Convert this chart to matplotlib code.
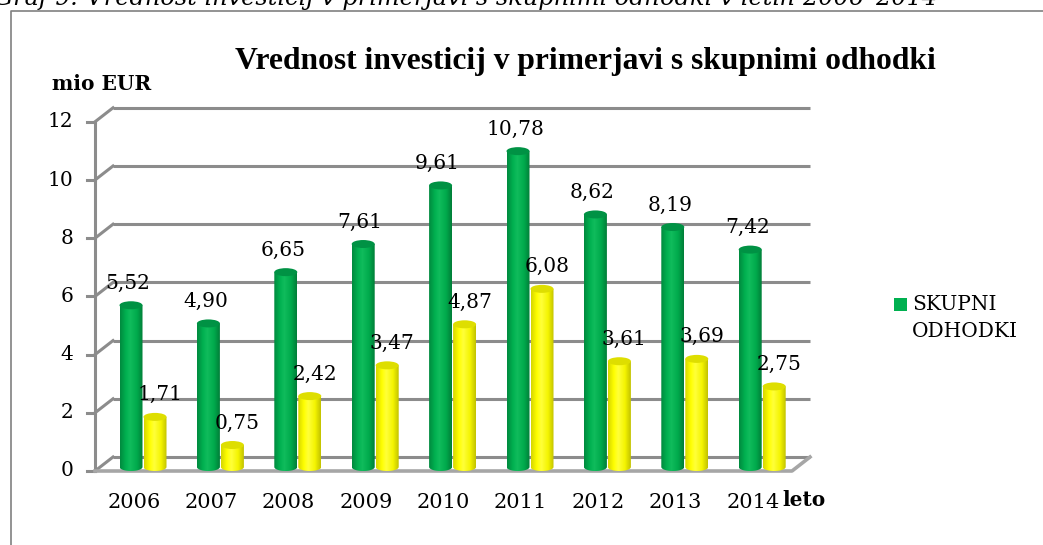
import numpy as np
import matplotlib
matplotlib.use("Agg")
import matplotlib.pyplot as plt
from matplotlib.patches import Polygon, Ellipse, Rectangle
from matplotlib.colors import LinearSegmentedColormap
from matplotlib.lines import Line2D

# ===== DATA =====
years = ["2006", "2007", "2008", "2009", "2010", "2011", "2012", "2013", "2014"]
skupni_odhodki = [5.52, 4.90, 6.65, 7.61, 9.61, 10.78, 8.62, 8.19, 7.42]
investicije = [1.71, 0.75, 2.42, 3.47, 4.87, 6.08, 3.61, 3.69, 2.75]
y_ticks = [0, 2, 4, 6, 8, 10, 12]

caption = "Graf 9: Vrednost investicij v primerjavi s skupnimi odhodki v letih 2006–2014"
title = "Vrednost investicij v primerjavi s skupnimi odhodki"
legend_label = "SKUPNI\nODHODKI"

# ===== STYLE =====
W, H = 1043, 545
PX_X = 77.4     # pixels per category
PX_Y = 29.3     # pixels per unit
X0, Y0 = 143, 467   # pixel of (0, 0)
GRID = "#8c8c8c"
SERIF = "DejaVu Serif"

green_cmap = LinearSegmentedColormap.from_list(
    "g", [(0, "#008a3e"), (0.25, "#00b050"), (0.45, "#10bc5c"), (0.75, "#00aa4c"), (1, "#007e38")])
yellow_cmap = LinearSegmentedColormap.from_list(
    "y", [(0, "#d6d600"), (0.25, "#ffff00"), (0.45, "#ffff3a"), (0.75, "#f4f400"), (1, "#c2c200")])

fig = plt.figure(figsize=(W / 100, H / 100), dpi=100)
ax = fig.add_axes([0, 0, 1, 1])
ax.set_xlim(-X0 / PX_X, (W - X0) / PX_X)
ax.set_ylim((Y0 - H) / PX_Y, Y0 / PX_Y)
ax.axis("off")


def px(x):
    return (x - X0) / PX_X


def py(y):
    return (Y0 - y) / PX_Y


# ===== WALLS / GRID =====
fx0, bx0, bx1, fx1 = px(95), px(113), px(810), px(792)
front_off, back_off = py(471), py(457)
g_scale = 29.1 / PX_Y
for v in y_ticks:
    yb = v * g_scale + back_off
    yf = v * g_scale + front_off
    ax.plot([bx0, bx1], [yb, yb], color=GRID, lw=2.2, zorder=1, solid_capstyle="butt")
    ax.plot([fx0, bx0], [yf, yb], color=GRID, lw=2.2, zorder=1)
    ax.plot([px(87), fx0], [yf, yf], color=GRID, lw=2.2, zorder=1)
    ax.text(px(73), yf, str(v), ha="right", va="center", fontsize=14.5, family=SERIF)
ax.plot([fx0, fx0], [front_off, y_ticks[-1] * g_scale + front_off], color=GRID, lw=2.2,
        zorder=1)
ax.plot([fx0, fx1, bx1], [front_off, front_off, back_off], color="#a6a6a6", lw=2.6,
        zorder=1)


# ===== CYLINDERS =====
def cylinder(xc, h, cmap, top_col, z):
    w = 23 / PX_X
    eh = 4 / PX_Y
    x0, x1 = xc - w / 2, xc + w / 2
    t = np.linspace(np.pi, 2 * np.pi, 30)
    arc = np.column_stack([xc + w / 2 * np.cos(t), eh * np.sin(t)])
    pts = np.vstack([[x0, h], arc, [x1, h]])
    clip = Polygon(pts, closed=True, fc="none", ec="none")
    ax.add_patch(clip)
    grad = np.linspace(0, 1, 64).reshape(1, -1)
    im = ax.imshow(grad, cmap=cmap, extent=[x0, x1, -eh, h], aspect="auto", zorder=z,
                   interpolation="bilinear")
    im.set_clip_path(clip)
    ax.add_patch(Ellipse((xc, h), w, 2 * eh, fc=top_col, ec="none", zorder=z + 0.1))


off = 12 / PX_X
lab_shift = 9.3 / PX_X
for i, (g, yv) in enumerate(zip(skupni_odhodki, investicije)):
    cylinder(i - off, g, green_cmap, "#009244", 3 + i)
    cylinder(i + off, yv, yellow_cmap, "#dede00", 3.5 + i)
    ax.annotate(f"{g:.2f}".replace(".", ","), (i - off, g), xytext=(-3, 22),
                textcoords="offset pixels", ha="center", va="center", fontsize=14.5,
                family=SERIF, zorder=20)
    ax.annotate(f"{yv:.2f}".replace(".", ","), (i + off, yv), xytext=(5, 22),
                textcoords="offset pixels", ha="center", va="center", fontsize=14.5,
                family=SERIF, zorder=20)
    ax.text(i - lab_shift, py(502), years[i], ha="center", va="center", fontsize=15,
            family=SERIF)

# ===== TEXTS =====
ax.text(px(804), py(500), "leto", ha="center", va="center", fontsize=14.5,
        family=SERIF, fontweight="bold")
ax.text(px(102), py(84), "mio EUR", ha="center", va="center", fontsize=14.5,
        family=SERIF, fontweight="bold")
ax.text(px(585), py(69), title, ha="center", va="baseline", fontsize=22.7,
        family="Liberation Serif", fontweight="bold")

# legend (only first series shown, like the original)
ax.add_patch(Rectangle((px(894), py(311)), 13 / PX_X, 13 / PX_Y, fc="#00b050", ec="none"))
ax.text(px(912), py(295), legend_label, ha="left", va="top", fontsize=14.5, family=SERIF,
        linespacing=1.55)

# ===== FRAME + CAPTION =====
fig.add_artist(Line2D([11 / W, 11 / W, 1], [0, 1 - 10.5 / H, 1 - 10.5 / H],
                      color="#808080", lw=1.2))
fig.text(937 / W, 1 - 5.5 / H, caption, ha="right", va="baseline", fontsize=17.3,
         family=SERIF, style="italic")

fig.savefig("out.png", dpi=100)
